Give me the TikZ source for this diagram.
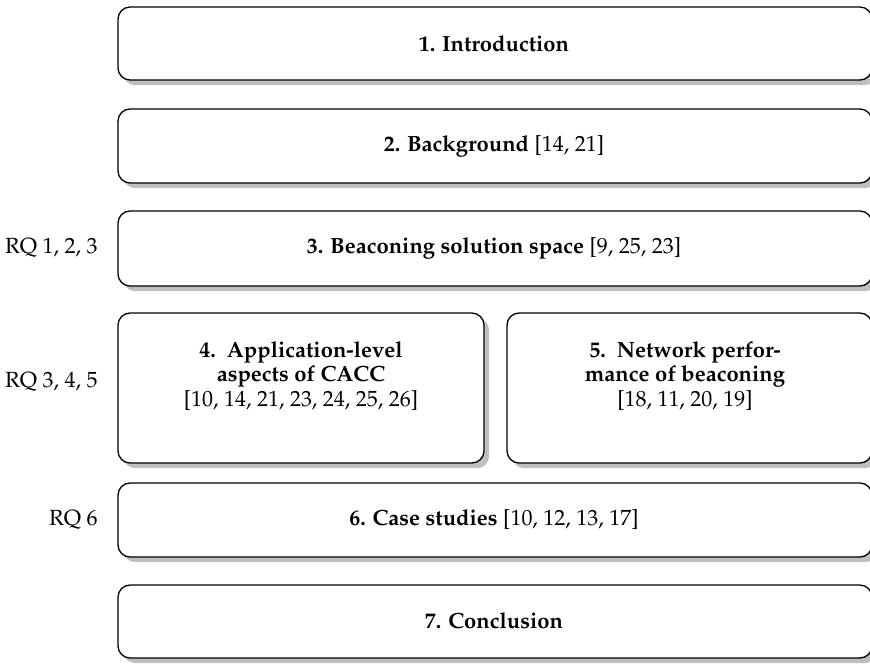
\documentclass[tikz,border=0pt]{standalone}
\usepackage[T1]{fontenc}
\usepackage{mathpazo}
\usetikzlibrary{shadows,fit}

\begin{document}
\begin{tikzpicture}[
  x=0.455pt, y=-0.455pt,
  box/.style={draw=black, line width=0.6pt, rounded corners=5.5pt,
    fill=white, drop shadow, inner sep=0pt},
  boxtext/.style={align=center, inner sep=0pt,
    font=\fontsize{10}{11.2}\selectfont},
  rq/.style={anchor=east, inner sep=0pt, font=\fontsize{10}{12}\selectfont}
]
\useasboundingbox (0,0) rectangle (870,663);

% chapter boxes
\node[box, fit={(118,7) (872,80)}] (b1) {};
\node[box, fit={(118,109) (872,183)}] (b2) {};
\node[box, fit={(118,211) (872,286)}] (b3) {};
\node[box, fit={(118,313) (484,463)}] (b4) {};
\node[box, fit={(507,313) (872,463)}] (b5) {};
\node[box, fit={(118,483) (872,557)}] (b6) {};
\node[box, fit={(118,585) (872,658)}] (b7) {};

% box contents
\node[boxtext] (t1) at (494,44) {\textbf{1. Introduction}};
\node[boxtext] (t2) at (494,146) {\textbf{2. Background} [14, 21]};
\node[boxtext] (t3) at (494,248) {\textbf{3. Beaconing solution space} [9, 25, 23]};
\node[boxtext] (t4) at (301,376)
  {\textbf{4.\hspace{0.5em}Application-level}\\\textbf{aspects of CACC}\\{}[10, 14, 21, 23, 24, 25, 26]};
\node[boxtext] (t5) at (685,376)
  {\textbf{5.\hspace{0.5em}Network perfor-}\\\textbf{mance of beaconing}\\{}[18, 11, 20, 19]};
\node[boxtext] (t6) at (494,520) {\textbf{6. Case studies} [10, 12, 13, 17]};
\node[boxtext] (t7) at (494,621) {\textbf{7. Conclusion}};

% research questions
\node[rq] (rq1) at (98,248) {RQ 1, 2, 3};
\node[rq] (rq2) at (98,382) {RQ 3, 4, 5};
\node[rq] (rq3) at (98,520) {RQ 6};
\end{tikzpicture}
\end{document}
